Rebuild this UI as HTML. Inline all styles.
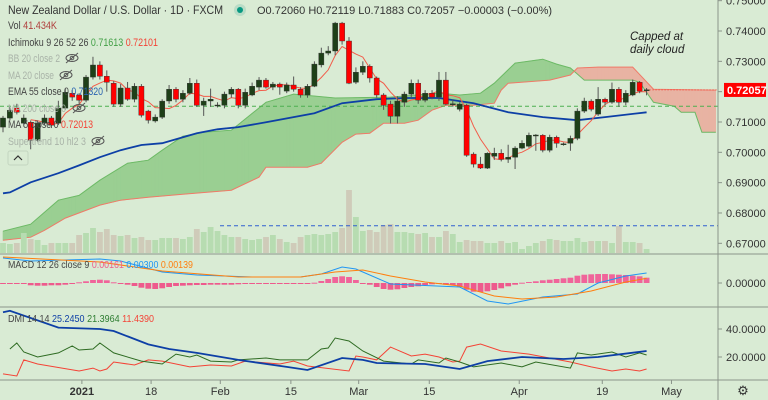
<!DOCTYPE html>
<html><head><meta charset="utf-8"><style>
html,body{margin:0;padding:0;background:#d9ebd4;}
svg{display:block;font-family:"Liberation Sans",sans-serif;}
</style></head><body>
<svg id="chart" width="768" height="400" viewBox="0 0 768 400" xmlns="http://www.w3.org/2000/svg">
<rect x="0" y="0" width="768" height="400" fill="#d9ebd4"/>
<g id="g-cloud"></g>
<g id="g-vol"></g>
<g id="g-lines"></g>
<g id="g-candles"></g>
<g id="g-macd"></g>
<g id="g-dmi"></g>
<g id="g-axes"></g>
<g id="g-legend" font-size="11">
  <text x="8" y="14" fill="#333" font-size="12" textLength="215" lengthAdjust="spacingAndGlyphs">New Zealand Dollar / U.S. Dollar · 1D · FXCM</text>
  <circle cx="240" cy="10" r="6" fill="#b9dcc6"/>
  <circle cx="240" cy="10" r="3" fill="#089981"/>
  <text x="257" y="14" fill="#333" textLength="295" lengthAdjust="spacingAndGlyphs">O0.72060  H0.72119  L0.71883  C0.72057  −0.00003 (−0.00%)</text>
  <text x="8" y="29" fill="#444" textLength="49" lengthAdjust="spacingAndGlyphs">Vol <tspan fill="#b0413e">41.434K</tspan></text>
  <text x="8" y="46" fill="#444" textLength="150" lengthAdjust="spacingAndGlyphs">Ichimoku 9 26 52 26 <tspan fill="#43a047">0.71613</tspan> <tspan fill="#f44336">0.72101</tspan></text>
  <text x="8" y="62" fill="#a9b3a8" textLength="52" lengthAdjust="spacingAndGlyphs">BB 20 close 2</text>
  <text x="8" y="79" fill="#a9b3a8" textLength="46" lengthAdjust="spacingAndGlyphs">MA 20 close</text>
  <text x="8" y="95" fill="#444" textLength="95" lengthAdjust="spacingAndGlyphs">EMA 55 close 0 <tspan fill="#2962b0">0.71320</tspan></text>
  <text x="8" y="112" fill="#a9b3a8" textLength="58" lengthAdjust="spacingAndGlyphs">MA 200 close 0</text>
  <text x="8" y="128" fill="#444" textLength="85" lengthAdjust="spacingAndGlyphs">MA 5 close 0 <tspan fill="#f44336">0.72013</tspan></text>
  <text x="8" y="145" fill="#a9b3a8" textLength="78" lengthAdjust="spacingAndGlyphs">Supertrend 10 hl2 3</text>
  <g stroke="#555" fill="none" stroke-width="1"><ellipse cx="72" cy="58" rx="6" ry="3.5"/><circle cx="72" cy="58" r="1.8"/><line x1="66" y1="63" x2="78" y2="53"/></g>
  <g stroke="#555" fill="none" stroke-width="1"><ellipse cx="66" cy="75" rx="6" ry="3.5"/><circle cx="66" cy="75" r="1.8"/><line x1="60" y1="80" x2="72" y2="70"/></g>
  <g stroke="#555" fill="none" stroke-width="1"><ellipse cx="79" cy="108" rx="6" ry="3.5"/><circle cx="79" cy="108" r="1.8"/><line x1="73" y1="113" x2="85" y2="103"/></g>
  <g stroke="#555" fill="none" stroke-width="1"><ellipse cx="98" cy="141" rx="6" ry="3.5"/><circle cx="98" cy="141" r="1.8"/><line x1="92" y1="146" x2="104" y2="136"/></g>
  <g><rect x="8" y="151" width="20" height="14" rx="2" fill="#d9ebd4" stroke="#c4d6c0"/><path d="M14 160 L18 156 L22 160" stroke="#333" fill="none" stroke-width="1.2"/></g>
  <text x="8" y="268" fill="#444" font-size="10.5" textLength="185" lengthAdjust="spacingAndGlyphs">MACD 12 26 close 9 <tspan fill="#ef5b8c">0.00161</tspan> <tspan fill="#2196f3">0.00300</tspan> <tspan fill="#ff7f0e">0.00139</tspan></text>
  <text x="8" y="322" fill="#444" font-size="10.5" textLength="146" lengthAdjust="spacingAndGlyphs">DMI 14 14 <tspan fill="#0d3fa6">25.2450</tspan> <tspan fill="#2e7d32">21.3964</tspan> <tspan fill="#f44336">11.4390</tspan></text>
</g>
<text x="630" y="40" font-size="11.5" font-style="italic" fill="#222"><tspan x="630">Capped at</tspan><tspan x="630" dy="13">daily cloud</tspan></text>
</svg>
<script>
// ---- data ----
const open  = [.7083,.7113,.7146,.7096,.7099,.7040,.7096,.7113,.7096,.7146,.7195,.7189,.7172,.7248,.7288,.7251,.7228,.7159,.7212,.7175,.7218,.7136,.7103,.7116,.7169,.7208,.7175,.7195,.7228,.7155,.7169,.7155,.7155,.7192,.7208,.7155,.7189,.7215,.7238,.7215,.7225,.7202,.7222,.7208,.7189,.7218,.7288,.7327,.7334,.7426,.7367,.7231,.7264,.7284,.7245,.7189,.7159,.7119,.7165,.7192,.7228,.7172,.7195,.7182,.7238,.7159,.7142,.7155,.6994,.6961,.6948,.6987,.6997,.6977,.6984,.7014,.7020,.7056,.7056,.7007,.7050,.7027,.7030,.7046,.7136,.7169,.7126,.7175,.7165,.7208,.7165,.7189,.7231,.7206];
const high  = [.7120,.7150,.7160,.7125,.7105,.7105,.7125,.7120,.7170,.7210,.7205,.7195,.7255,.7315,.7300,.7270,.7235,.7225,.7232,.7228,.7225,.7140,.7125,.7175,.7222,.7215,.7205,.7245,.7240,.7180,.7210,.7165,.7200,.7215,.7212,.7210,.7230,.7248,.7245,.7232,.7230,.7230,.7250,.7215,.7225,.7300,.7345,.7350,.7430,.7430,.7380,.7280,.7300,.7290,.7250,.7195,.7170,.7185,.7200,.7240,.7240,.7205,.7205,.7265,.7265,.7175,.7165,.7160,.7000,.6985,.7000,.7015,.7010,.7025,.7020,.7040,.7065,.7060,.7060,.7058,.7055,.7032,.7055,.7145,.7180,.7175,.7215,.7180,.7230,.7215,.7205,.7240,.7235,.7212];
const low   = [.7066,.7105,.7125,.7085,.7010,.7035,.7090,.7080,.7090,.7140,.7170,.7160,.7165,.7240,.7240,.7200,.7150,.7150,.7170,.7165,.7115,.7095,.7098,.7110,.7160,.7165,.7165,.7190,.7150,.7120,.7150,.7148,.7145,.7180,.7145,.7145,.7185,.7205,.7210,.7205,.7190,.7195,.7200,.7180,.7180,.7215,.7280,.7320,.7320,.7355,.7225,.7225,.7255,.7230,.7180,.7140,.7095,.7095,.7150,.7180,.7160,.7165,.7175,.7170,.7155,.7150,.7135,.6985,.6950,.6945,.6945,.6975,.6970,.6965,.6945,.7010,.7015,.7005,.7000,.7000,.7015,.7022,.7005,.7040,.7130,.7135,.7120,.7155,.7160,.7150,.7155,.7185,.7195,.7188];
const close = [.7113,.7139,.7132,.7113,.7040,.7096,.7113,.7089,.7146,.7198,.7182,.7172,.7248,.7288,.7251,.7231,.7159,.7212,.7175,.7218,.7122,.7106,.7116,.7169,.7208,.7175,.7195,.7228,.7155,.7169,.7175,.7156,.7192,.7208,.7155,.7198,.7218,.7238,.7215,.7225,.7215,.7222,.7208,.7189,.7218,.7291,.7327,.7334,.7426,.7367,.7228,.7264,.7284,.7245,.7189,.7155,.7119,.7169,.7192,.7228,.7172,.7195,.7182,.7238,.7159,.7160,.7159,.6990,.6961,.6948,.6997,.6997,.6977,.6984,.7014,.7030,.7056,.7057,.7007,.7050,.7030,.7028,.7046,.7136,.7169,.7142,.7175,.7165,.7208,.7165,.7195,.7231,.7202,.7206];
const volume = [10,9,10,20,14,13,8,10,10,10,10,18,20,25,21,24,18,17,18,15,16,13,13,15,15,15,14,16,24,21,26,22,18,16,16,14,13,14,16,18,14,11,10,16,18,19,18,19,21,25,63,36,22,23,21,28,29,21,21,20,19,20,16,16,22,19,11,13,12,12,10,10,12,10,11,4,7,10,12,14,13,12,12,15,11,12,12,12,10,27,11,11,10,4];
const ema55Idx = [0,1,4,8,11,14,17,20,23,26,28,31,34,38,45,49,54,58,63,68,73,78,83,87,93];
const ema55Val = [.6865,.6868,.6901,.6931,.6957,.6984,.7007,.7024,.7030,.7050,.7063,.7076,.7083,.7099,.7129,.7162,.7175,.7179,.7179,.7162,.7132,.7116,.7106,.7116,.7132];
const spanAIdx = [0,4,8,11,14,18,21,23,26,29,33,38,42,48,56,63,66,69,71,74,78,80,82,84,91,92,94,97,98,100,101,103];
const spanAVal = [.6740,.6763,.6842,.6858,.6908,.6964,.6974,.7007,.7053,.7066,.7073,.7165,.7192,.7179,.7182,.7195,.7189,.7195,.7228,.7294,.7307,.7291,.7278,.7238,.7238,.7231,.7165,.7152,.7132,.7132,.7066,.7066];
const spanBIdx = [0,4,6,9,14,17,21,26,33,37,38,44,46,49,51,53,55,58,60,62,64,68,71,72,73,79,82,83,86,91,94,103];
const spanBVal = [.6710,.6720,.6743,.6783,.6826,.6842,.6852,.6862,.6875,.6918,.6951,.6951,.6964,.7033,.7060,.7063,.7096,.7096,.7106,.7139,.7155,.7155,.7162,.7205,.7228,.7238,.7255,.7278,.7281,.7281,.7208,.7205];
const macdIdx = [0,4,14,17,23,28,36,43,46,49,51,56,66,70,73,78,83,86,90,93];
const macdVal = [7.5,6.6,7.2,6.6,3.3,2.4,1.8,1.8,2.7,4.8,4.2,-0.3,-1.2,-5.4,-6.3,-4.2,-3.3,0,2.1,3.0];
const sigIdx = [0,14,23,34,43,48,52,56,61,66,71,75,80,85,90,93];
const sigVal = [7.8,6.3,3.6,1.8,1.8,3.3,3.9,2.1,0.3,-0.9,-3.9,-4.8,-4.2,-2.4,0.3,1.4];
const hist = [-0.2,-0.2,-0.3,-0.3,-0.7,-0.8,-0.8,-0.7,-0.7,-0.5,-0.2,0.2,0.5,0.9,1.0,0.8,0.2,-0.2,-0.5,-0.9,-1.4,-1.7,-1.8,-1.6,-1.2,-0.9,-0.8,-0.7,-0.6,-0.6,-0.5,-0.5,-0.5,-0.5,-0.4,-0.3,-0.2,-0.2,-0.2,-0.2,-0.1,-0.2,-0.3,-0.3,-0.2,0.1,0.6,1.2,1.8,2.0,1.8,0.9,-0.2,-0.5,-1.2,-1.8,-2.0,-1.9,-1.5,-1.2,-1.0,-0.6,-0.4,-0.3,-0.5,-0.6,-1.2,-2.0,-2.6,-2.7,-2.5,-2.1,-1.6,-1.0,-0.5,0.1,0.3,0.5,0.8,1.0,1.2,1.4,1.6,2.2,2.5,2.6,2.7,2.7,2.6,2.5,2.4,2.2,2.0,1.6];
const adxIdx = [0,1,8,14,16,21,24,28,34,41,44,49,52,54,61,66,70,75,81,86,93];
const adxVal = [52,53,41,40,38.6,29,25.7,22.9,17.9,12.9,10.7,19.3,17.9,15.7,15,11.4,17.1,20,18.6,20,24.3];
const pdiIdx = [1,2,3,5,8,10,11,13,14,16,20,23,25,27,28,30,33,34,38,40,44,46,47,48,50,52,55,59,60,63,64,66,68,72,75,77,82,83,85,88,90,92,93];
const pdiVal = [25.7,30,23.6,20,22.9,27.9,25,25.7,30,22.9,17.1,15,22.1,20,21.4,17.1,16.4,17.9,19.3,17.9,17.9,25.7,26.4,33.6,31.4,24.3,17.1,15,17.9,15.7,19.3,16.4,12.9,15.7,12.9,16.4,12.1,22.9,21.4,23.6,20,22.9,21.4];
const mdiIdx = [0,2,3,5,11,13,14,15,16,19,21,23,27,30,33,35,40,42,44,50,51,52,54,56,59,61,63,65,66,67,69,72,76,82,85,88,90,92,93];
const mdiVal = [7.9,6.4,17.9,15,10,12.1,10,11.4,16.4,14.3,17.9,17.1,12.9,14.3,13.6,17.1,15,17.1,13.6,10,20.7,20,17.9,27.1,20.7,22.1,20,16.4,17.1,27.1,29.3,24.3,22.1,16.4,12.9,10,11.4,10,11.4];
const priceTicks = [0.75,0.74,0.73,0.72,0.71,0.70,0.69,0.68,0.67];
const priceTickLabels = ["0.75000","0.74000","0.73000","0.72000","0.71000","0.70000","0.69000","0.68000","0.67000"];
const lastPrice = 0.72057;
const levelGreen = 0.7152;
const levelBlue = 0.6758;
const macdTicks = [0];
const macdTickLabels = ["0.00000"];
const dmiTicks = [40,20];
const dmiTickLabels = ["40.0000","20.0000"];
const timeTickIdx = [11.4,21.4,31.4,41.6,51.4,61.6,74.6,86.6,96.6];
const timeLabels = ["2021","18","Feb","15","Mar","15","Apr","19","May"];

// ---- scales ----
const NS = "http://www.w3.org/2000/svg";
const PLOT_R = 718;
function xOf(i){ return 3 + 6.92 * i; }
function yP(p){ return 31 + (0.74 - p) * 3033; }
function yM(v){ return 283 - v * 3.333; }
function yD(v){ return 385 - v * 1.4; }
function mk(tag, attrs, parent){ const e=document.createElementNS(NS,tag); for(const k in attrs) e.setAttribute(k,attrs[k]); parent.appendChild(e); return e; }
function knotAt(idx, vals, t){
  if(t<=idx[0]) return vals[0];
  for(let k=1;k<idx.length;k++){ if(t<=idx[k]){ const f=(t-idx[k-1])/(idx[k]-idx[k-1]); return vals[k-1]+f*(vals[k]-vals[k-1]); } }
  return vals[vals.length-1];
}
function pathFrom(idx, vals, yf){ return idx.map((t,k)=>(k?'L':'M')+xOf(t).toFixed(1)+' '+yf(vals[k]).toFixed(1)).join(' '); }

// ---- cloud ----
const gc = document.getElementById('g-cloud');
const cEnd = Math.max(spanAIdx[spanAIdx.length-1], spanBIdx[spanBIdx.length-1]);
for(let t=0;t<cEnd;t+=0.5){
  const t2=Math.min(t+0.5,cEnd);
  const a1=knotAt(spanAIdx,spanAVal,t), a2=knotAt(spanAIdx,spanAVal,t2);
  const b1=knotAt(spanBIdx,spanBVal,t), b2=knotAt(spanBIdx,spanBVal,t2);
  const col=((a1+a2)>(b1+b2))?'#9acf92':'#e8b3a3';
  const q=mk('polygon',{points:`${xOf(t)},${yP(a1)} ${xOf(t2)},${yP(a2)} ${xOf(t2)},${yP(b2)} ${xOf(t)},${yP(b1)}`,fill:col,stroke:col,'stroke-width':0.6},gc);
  
  
}
const sa=mk('path',{d:pathFrom(spanAIdx,spanAVal,yP),stroke:'#6dba66',fill:'none','stroke-width':1},gc);


const sb=mk('path',{d:pathFrom(spanBIdx,spanBVal,yP),stroke:'#f07a68',fill:'none','stroke-width':1},gc);



// ---- volume ----
const gv=document.getElementById('g-vol');
volume.forEach((v,i)=>{
  const h=v*1.0;
  const up=close[i]>=open[i];
  const r=mk('rect',{x:(xOf(i)-2.9).toFixed(1),y:(253-h).toFixed(1),width:5.8,height:h,fill:up?'#b7dcb1':'#cfcbb9'},gv);
  
  
});

// ---- level lines ----
const gl=document.getElementById('g-lines');
const lg=mk('line',{x1:0,x2:PLOT_R,y1:yP(levelGreen),y2:yP(levelGreen),stroke:'#4caf50','stroke-dasharray':'4 3','stroke-width':1},gl);


const lb=mk('line',{x1:220,x2:PLOT_R,y1:yP(levelBlue),y2:yP(levelBlue),stroke:'#3060d0','stroke-dasharray':'4 3','stroke-width':1},gl);


const ema=mk('path',{d:pathFrom(ema55Idx,ema55Val,yP),stroke:'#0d3fa6',fill:'none','stroke-width':1.8},gl);


let ma5=''; for(let i=4;i<close.length;i++){ let s=0; for(let k=i-4;k<=i;k++) s+=close[k]; ma5+=(i>4?'L':'M')+xOf(i).toFixed(1)+' '+yP(s/5).toFixed(1)+' '; }
const m5=mk('path',{d:ma5,stroke:'#f25c4a',fill:'none','stroke-width':1},gl);


const lp=mk('line',{x1:xOf(close.length-1),x2:PLOT_R,y1:yP(lastPrice),y2:yP(lastPrice),stroke:'#f44336','stroke-width':1,'stroke-dasharray':'1 2'},gl);



// ---- candles ----
const gk=document.getElementById('g-candles');
open.forEach((o,i)=>{
  const c=close[i], up=c>=o, x=xOf(i);
  const w=mk('line',{x1:x,x2:x,y1:yP(high[i]),y2:yP(low[i]),stroke:'#555','stroke-width':1},gk);
  
  
  const top=yP(Math.max(o,c)), bot=yP(Math.min(o,c));
  const b=mk('rect',{x:(x-2.6).toFixed(1),y:top.toFixed(1),width:5.2,height:Math.max(1,bot-top).toFixed(1),fill:up?'#1e3f18':'#ff0000',stroke:'#333','stroke-width':0.4},gk);
  
  
});

// ---- MACD ----
const gm=document.getElementById('g-macd');
hist.forEach((v,i)=>{
  const y0=yM(0), y1=yM(v);
  const r=mk('rect',{x:(xOf(i)-2.9).toFixed(1),y:Math.min(y0,y1).toFixed(1),width:5.8,height:Math.max(1,Math.abs(y1-y0)).toFixed(1),fill:v>=0?'#f0649a':'#ee5a8d'},gm);
  
  
});
const ml=mk('path',{d:pathFrom(macdIdx,macdVal,yM),stroke:'#2196f3',fill:'none','stroke-width':1},gm);


const sl=mk('path',{d:pathFrom(sigIdx,sigVal,yM),stroke:'#ff7f0e',fill:'none','stroke-width':1},gm);



// ---- DMI ----
const gd=document.getElementById('g-dmi');
const md=mk('path',{d:pathFrom(mdiIdx,mdiVal,yD),stroke:'#f44336',fill:'none','stroke-width':1},gd);


const pd=mk('path',{d:pathFrom(pdiIdx,pdiVal,yD),stroke:'#2e6b22',fill:'none','stroke-width':1},gd);


const ad=mk('path',{d:pathFrom(adxIdx,adxVal,yD),stroke:'#0d3fa6',fill:'none','stroke-width':1.8},gd);



// ---- axes ----
const ga=document.getElementById('g-axes');
const bgR=mk('rect',{x:PLOT_R,y:0,width:50,height:400,fill:'#d9ebd4'},ga);


[[0,254,768,254],[0,307,768,307],[0,380,768,380],[PLOT_R,0,PLOT_R,400]].forEach(s=>{
  const l=mk('line',{x1:s[0],y1:s[1],x2:s[2],y2:s[3],stroke:'#8a948a','stroke-width':1},ga);
  
  
});
function axisLabel(y,txt,name){
  const tk=mk('line',{x1:PLOT_R,x2:PLOT_R+4,y1:y,y2:y,stroke:'#8a948a'},ga);
  
  
  const t=mk('text',{x:PLOT_R+8,y:y+4,'font-size':11,fill:'#333'},ga);
  t.textContent=txt;
  
  
}
priceTicks.forEach((p,k)=>axisLabel(yP(p),priceTickLabels[k],'price-axis'));
macdTicks.forEach((v,k)=>axisLabel(yM(v),macdTickLabels[k],'macd-axis'));
dmiTicks.forEach((v,k)=>axisLabel(yD(v),dmiTickLabels[k],'dmi-axis'));
const badge=mk('rect',{x:PLOT_R+6,y:yP(lastPrice)-7,width:42,height:14,fill:'#ff0000'},ga);


const bt=mk('text',{x:PLOT_R+9,y:yP(lastPrice)+4,'font-size':11,'font-weight':'bold',fill:'#fff'},ga);
bt.textContent=lastPrice.toFixed(5);


timeTickIdx.forEach((t,k)=>{
  const x=xOf(t);
  const tk=mk('line',{x1:x,x2:x,y1:380,y2:384,stroke:'#8a948a'},ga);
  
  
  const tx=mk('text',{x:x,y:395,'font-size':11,fill:'#333','text-anchor':'middle','font-weight':k===0?'bold':'normal'},ga);
  tx.textContent=timeLabels[k];
  
  
});
const gear=mk('text',{x:743,y:395,'font-size':13,fill:'#333','text-anchor':'middle'},ga);
gear.textContent='⚙';


</script>
</body></html>
